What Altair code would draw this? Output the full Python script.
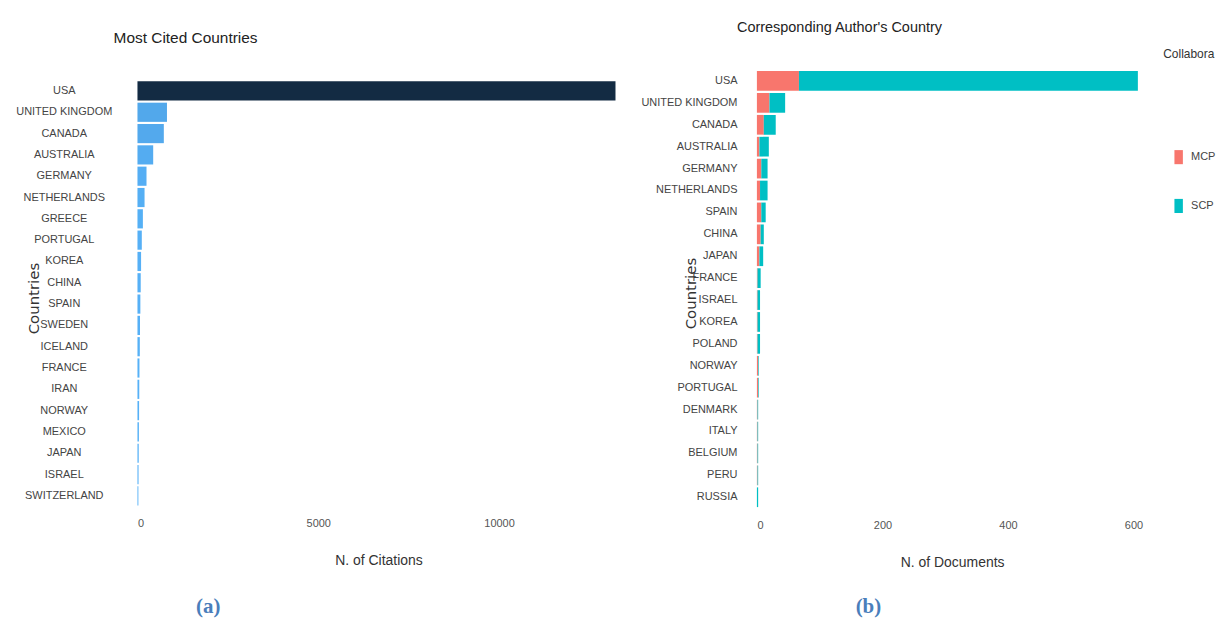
import altair as alt
import pandas as pd

# ---- data: Most Cited Countries ----
cit_countries = ["USA", "UNITED KINGDOM", "CANADA", "AUSTRALIA", "GERMANY", "NETHERLANDS",
                 "GREECE", "PORTUGAL", "KOREA", "CHINA", "SPAIN", "SWEDEN", "ICELAND",
                 "FRANCE", "IRAN", "NORWAY", "MEXICO", "JAPAN", "ISRAEL", "SWITZERLAND"]
citations = [13220, 816, 729, 435, 250, 196, 150, 120, 100, 90, 80, 70, 65, 55, 50, 45, 40, 35, 30, 25]

# ---- data: Corresponding Author's Country ----
doc_countries = ["USA", "UNITED KINGDOM", "CANADA", "AUSTRALIA", "GERMANY", "NETHERLANDS",
                 "SPAIN", "CHINA", "JAPAN", "FRANCE", "ISRAEL", "KOREA", "POLAND", "NORWAY",
                 "PORTUGAL", "DENMARK", "ITALY", "BELGIUM", "PERU", "RUSSIA"]
mcp = [67, 20, 11, 4, 7, 5, 7, 6, 4, 1, 1, 1, 1, 2, 2, 1, 1, 1, 1, 0]
scp = [540, 25, 19, 15, 10, 12, 7, 5, 6, 5, 4, 4, 4, 1, 1, 1, 1, 1, 1, 2]

collab_types = ["MCP", "SCP"]
collab_colors = ["#F8766D", "#00BFC4"]
legend_title = ["Collaboration"]
panel_labels = ["(a)", "(b)"]

SANS = "Liberation Sans, Arial, sans-serif"
WIDE = "DejaVu Sans, Verdana, sans-serif"
SERIF = "Liberation Serif, DejaVu Serif, serif"

df_cit = pd.DataFrame({"country": cit_countries, "citations": citations})
rows = []
for c, m, s in zip(doc_countries, mcp, scp):
    rows.append({"country": c, "type": "MCP", "n": m, "ord": 0})
    rows.append({"country": c, "type": "SCP", "n": s, "ord": 1})
df_doc = pd.DataFrame(rows)


def x_axis(title, values):
    return alt.Axis(title=title, values=values, format="d", grid=False, ticks=False,
                    tickSize=0, domain=False, labelFont=SANS, labelFontSize=11,
                    labelColor="#555555", labelPadding=11, titleFont=SANS,
                    titleFontSize=14, titleFontWeight="normal", titleColor="#333333",
                    titlePadding=26)


# ---- left panel ----
left_bars = alt.Chart(df_cit).mark_bar().encode(
    y=alt.Y("country:N", sort=cit_countries,
            scale=alt.Scale(paddingInner=0.1, paddingOuter=0.2836, align=0.94),
            axis=alt.Axis(title="Countries", labelAlign="center", labelPadding=74, ticks=False,
                          tickSize=0, domain=False, labelFont=SANS, labelFontSize=11,
                          labelColor="#444444", titleFont=WIDE, titleFontSize=15,
                          titleFontWeight="normal", titleColor="#333333", titleAngle=270,
                          titleX=-104, titleY=229, titleAlign="center", titleBaseline="middle")),
    x=alt.X("citations:Q", scale=alt.Scale(domain=[0, 13330], nice=False),
            axis=x_axis("N. of Citations", [0, 5000, 10000])),
    color=alt.Color("citations:Q", scale=alt.Scale(range=["#56B1F7", "#132B43"]), legend=None),
)
left_lab = alt.Chart(pd.DataFrame({"t": [panel_labels[0]]})).mark_text(
    font=SERIF, fontWeight="bold", fontSize=21, color="#4a7ebb"
).encode(text="t:N", x=alt.value(71), y=alt.value(539))

left = alt.layer(left_bars, left_lab).properties(
    width=484, height=438,
    title=alt.TitleParams("Most Cited Countries", anchor="start", frame="group", dx=-24,
                          offset=24, font=SANS, fontSize=15.5, fontWeight="normal",
                          color="#222222"))

# ---- right panel ----
right_bars = alt.Chart(df_doc).mark_bar().encode(
    y=alt.Y("country:N", sort=doc_countries,
            scale=alt.Scale(paddingInner=0.1, paddingOuter=0.05),
            axis=alt.Axis(title="Countries", labelAlign="right", labelPadding=20, ticks=False,
                          tickSize=0, domain=False, labelFont=SANS, labelFontSize=11,
                          labelColor="#444444", titleFont=WIDE, titleFontSize=15,
                          titleFontWeight="normal", titleColor="#333333", titleAngle=270,
                          titleX=-67, titleY=224, titleAlign="center", titleBaseline="middle")),
    x=alt.X("n:Q", stack="zero", scale=alt.Scale(domain=[0, 622], nice=False),
            axis=x_axis("N. of Documents", [0, 200, 400, 600])),
    color=alt.Color("type:N", scale=alt.Scale(domain=collab_types, range=collab_colors),
                    legend=alt.Legend(title=None, orient="none", legendX=416, legendY=80,
                                      padding=0, labelFont=SANS, labelFontSize=11,
                                      labelColor="#444444",
                                      symbolType="M-0.6,-1L0.6,-1L0.6,1L-0.6,1Z",
                                      symbolSize=200, symbolStrokeWidth=0, rowPadding=34,
                                      labelOffset=5)),
    order=alt.Order("ord:Q"),
)
right_leg_title = alt.Chart(pd.DataFrame({"t": legend_title})).mark_text(
    font=SANS, fontSize=12, color="#333333", align="left", baseline="middle",
    limit=52, ellipsis="\u200b"
).encode(text="t:N", x=alt.value(408), y=alt.value(-16))

right_lab = alt.Chart(pd.DataFrame({"t": [panel_labels[1]]})).mark_text(
    font=SERIF, fontWeight="bold", fontSize=21, color="#4a7ebb"
).encode(text="t:N", x=alt.value(112), y=alt.value(539))

right = alt.layer(right_bars, right_leg_title, right_lab).properties(
    width=392, height=440,
    title=alt.TitleParams("Corresponding Author's Country", anchor="start", frame="group",
                          dx=-20, offset=13, font=SANS, fontSize=14.5, fontWeight="normal",
                          color="#222222"))

chart = alt.hconcat(left, right, spacing=138, bounds="flush").configure_view(
    stroke=None
).properties(
    padding={"left": 7, "top": 10, "right": 0, "bottom": 0},
    background="white",
)

chart.save("out.html", embed_options={"renderer": "svg", "actions": False})
